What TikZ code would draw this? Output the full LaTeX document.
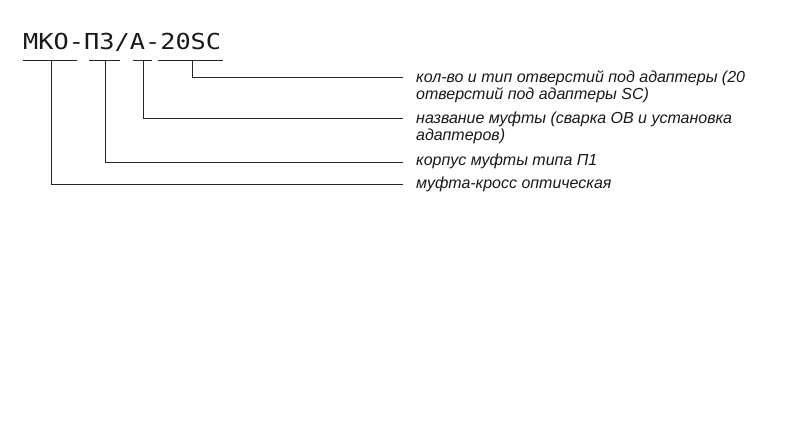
\documentclass[tikz,border=0pt]{standalone}
\usepackage{fontspec}
\setmainfont{Liberation Sans}
\newfontfamily\titlefont{DejaVu Sans Mono}
\begin{document}
\begin{tikzpicture}[x=1pt,y=-1pt,
  conn/.style={line width=1pt,color=black!85},
  lbl/.style={inner sep=0pt,anchor=base west,font=\fontsize{16}{18}\selectfont\itshape,text=black!90},
  ttl/.style={inner sep=0pt,anchor=base west,font=\fontsize{22}{24}\selectfont\titlefont,text=black!90}]
\useasboundingbox (0,0) rectangle (800,421);
\node[ttl] (title) at (23,49.5) {\scalebox{1.15}[1]{МКО-П3/А-20SC}};
% underline segments
\coordinate (u1a) at (23,60); \coordinate (u1b) at (77,60);
\coordinate (u2a) at (89,60); \coordinate (u2b) at (120,60);
\coordinate (u3a) at (133,60); \coordinate (u3b) at (152,60);
\coordinate (u4a) at (158,60); \coordinate (u4b) at (223,60);
\draw[conn] (u1a) -- (u1b);
\draw[conn] (u2a) -- (u2b);
\draw[conn] (u3a) -- (u3b);
\draw[conn] (u4a) -- (u4b);
% branch points
\coordinate (b1) at (51,60);
\coordinate (b2) at (105,60);
\coordinate (b3) at (143,60);
\coordinate (b4) at (192,60);
% line ends
\coordinate (e4) at (403,77.5);
\coordinate (e3) at (403,118);
\coordinate (e2) at (403,162.5);
\coordinate (e1) at (403,184.5);
\draw[conn] (b4) |- (e4);
\draw[conn] (b3) |- (e3);
\draw[conn] (b2) |- (e2);
\draw[conn] (b1) |- (e1);
% labels
\node[lbl] (t4a) at (416,82) {кол-во и тип отверстий под адаптеры (20};
\node[lbl] (t4b) at (416,99.5) {отверстий под адаптеры SC)};
\node[lbl] (t3a) at (416,123) {название муфты (сварка ОВ и установка};
\node[lbl] (t3b) at (416,140.5) {адаптеров)};
\node[lbl] (t2) at (416,165.5) {корпус муфты типа П1};
\node[lbl] (t1) at (416,188) {муфта-кросс оптическая};
\end{tikzpicture}
\end{document}
